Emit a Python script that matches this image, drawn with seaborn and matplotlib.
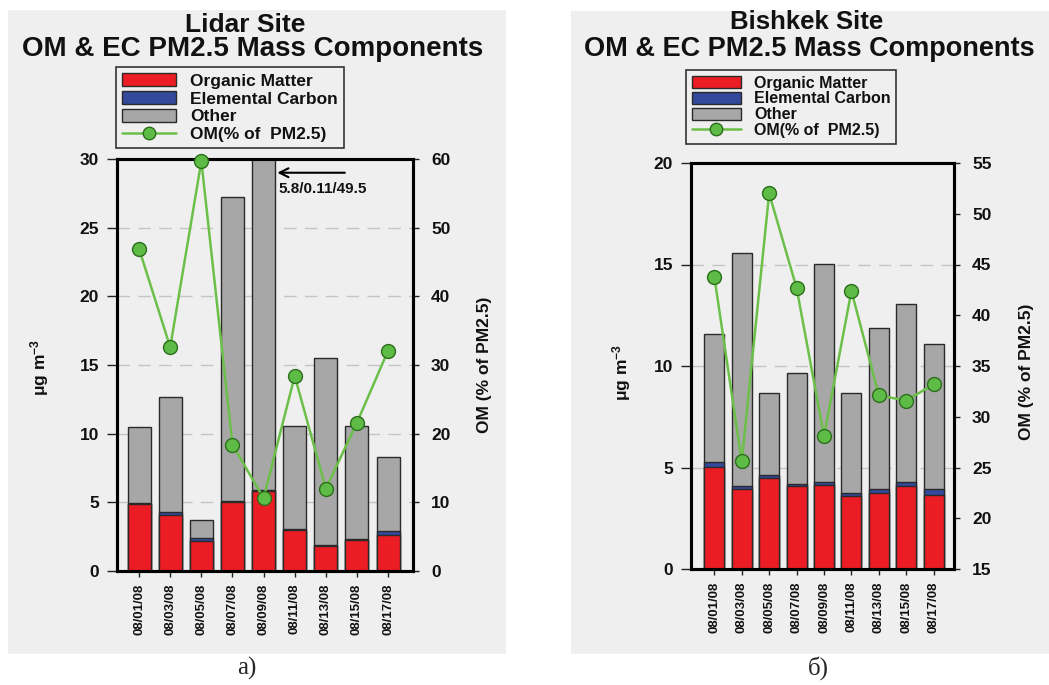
import numpy as np
import pandas as pd
import matplotlib
matplotlib.use("Agg")
import matplotlib.pyplot as plt
from matplotlib.patches import Patch, Rectangle
from matplotlib.lines import Line2D
import seaborn as sns

# Sampling dates (August 2008)
dates = ["08/01/08", "08/03/08", "08/05/08", "08/07/08", "08/09/08",
         "08/11/08", "08/13/08", "08/15/08", "08/17/08"]

# Lidar site: mass components, µg m-3, and OM share of PM2.5 (%)
lidar_om = [4.85, 4.10, 2.20, 5.00, 5.80, 2.95, 1.82, 2.28, 2.60]
lidar_ec = [0.12, 0.20, 0.20, 0.12, 0.11, 0.10, 0.08, 0.07, 0.30]
lidar_pm25 = [10.45, 12.65, 3.74, 27.2, 49.5, 10.53, 15.5, 10.53, 8.27]
lidar_om_pct = [46.9, 32.6, 59.7, 18.4, 10.6, 28.4, 12.0, 21.6, 32.1]

# Bishkek site
bishkek_om = [5.02, 3.96, 4.47, 4.07, 4.15, 3.61, 3.74, 4.07, 3.65]
bishkek_ec = [0.25, 0.14, 0.16, 0.13, 0.15, 0.15, 0.20, 0.20, 0.29]
bishkek_pm25 = [11.59, 15.57, 8.67, 9.65, 15.02, 8.67, 11.87, 13.05, 11.10]
bishkek_om_pct = [43.8, 25.6, 52.0, 42.7, 28.1, 42.4, 32.1, 31.6, 33.2]

# Note on the clipped Lidar bar (OM / EC / PM2.5)
lidar_note_idx = 4
lidar_note = "5.8/0.11/49.5"

sns.set_theme(style="white")
plt.rcParams["font.family"] = ["Liberation Sans", "DejaVu Sans"]
plt.rcParams["font.weight"] = "bold"
plt.rcParams["mathtext.fontset"] = "custom"
plt.rcParams["mathtext.rm"] = "Liberation Sans:bold"
plt.rcParams["mathtext.bf"] = "Liberation Sans:bold"
plt.rcParams["mathtext.default"] = "bf"

W, H = 1049, 685
fig = plt.figure(figsize=(W / 100, H / 100), dpi=100, facecolor="white")

BG = "#efefef"
RED = "#ec1c24"
BLUE = "#33499b"
GREY = "#a7a7a7"
EDGE = "#2a2a2a"
GREEN = "#6cc04a"
MFC = "#5dbb46"
MEC = "#2c6e1c"
INK = "#111111"


def fx(x):
    return x / W


def fy(y):
    return 1 - y / H


def px_axes(x0, y0, x1, y1):
    return [fx(x0), fy(y1), (x1 - x0) / W, (y1 - y0) / H]


# light grey panel backgrounds
for x0, y0, x1, y1 in [(8, 10, 506, 654), (571, 11, 1049, 654)]:
    fig.add_artist(Rectangle((fx(x0), fy(y1)), (x1 - x0) / W, (y1 - y0) / H,
                             transform=fig.transFigure, facecolor=BG,
                             edgecolor="none", zorder=-5))


def legend_handles():
    return [
        Patch(facecolor=RED, edgecolor=EDGE, linewidth=1),
        Patch(facecolor=BLUE, edgecolor=EDGE, linewidth=1),
        Patch(facecolor=GREY, edgecolor=EDGE, linewidth=1),
        Line2D([0], [0], color=GREEN, lw=1.8, marker="o", markersize=9,
               markerfacecolor=MFC, markeredgecolor=MEC, markeredgewidth=1),
    ]


legend_labels = ["Organic Matter", "Elemental Carbon", "Other", "OM(% of  PM2.5)"]


def draw_panel(rect, om, ec, pm, pct, ylim, yticks, y2lim, y2ticks, grid_vals,
               xlim, bar_width):
    ax = fig.add_axes(rect)
    ax.set_facecolor(BG)
    df = pd.DataFrame({"date": dates, "om": om,
                       "om_ec": np.add(om, ec), "pm": pm, "pct": pct})

    # stacked look: full PM2.5 (other on top), then OM+EC, then OM
    for col, colr in [("pm", GREY), ("om_ec", BLUE), ("om", RED)]:
        sns.barplot(data=df, x="date", y=col, color=colr, saturation=1,
                    edgecolor=EDGE, linewidth=1, width=bar_width,
                    errorbar=None, ax=ax, zorder=2)

    for g in grid_vals:
        ax.axhline(g, color="#c4c4c4", lw=1, ls=(0, (9, 6)), zorder=1)

    ax.set_ylim(*ylim)
    ax.set_yticks(yticks)
    ax.set_yticklabels([str(t) for t in yticks])
    ax.set_xlabel("")
    ax.set_ylabel("")
    ax.tick_params(axis="y", left=True, direction="out", length=7, width=1,
                   pad=6, labelsize=12.5, color="#222222", labelcolor=INK)
    ax.tick_params(axis="x", bottom=True, direction="out", length=4, width=1,
                   pad=5, labelsize=9.5, labelrotation=90, color="#222222",
                   labelcolor=INK)

    ax2 = ax.twinx()
    sns.lineplot(data=df, x="date", y="pct", ax=ax2, color=GREEN, lw=1.8,
                 marker="o", markersize=10, markerfacecolor=MFC,
                 markeredgecolor=MEC, markeredgewidth=1, clip_on=False,
                 zorder=5, sort=False)
    ax2.set_ylim(*y2lim)
    ax2.set_yticks(y2ticks)
    ax2.set_yticklabels([str(t) for t in y2ticks])
    ax2.set_ylabel("")
    ax2.set_xlabel("")
    ax2.tick_params(axis="y", right=True, direction="out", length=4, width=1,
                    pad=9, labelsize=12.5, color="#222222", labelcolor=INK)
    ax.set_xlim(*xlim)
    ax2.set_xlim(*xlim)

    for a in (ax, ax2):
        for s in a.spines.values():
            s.set_visible(True)
            s.set_color("black")
            s.set_linewidth(2.2)
    return ax, ax2


# ---- Lidar site
axL, axL2 = draw_panel(px_axes(117, 159, 413, 571), lidar_om, lidar_ec,
                       lidar_pm25, lidar_om_pct, (0, 30), [0, 5, 10, 15, 20, 25, 30],
                       (0, 60), [0, 10, 20, 30, 40, 50, 60],
                       [5, 10, 15, 20, 25], (-0.71, 8.8), 0.74)

axL.annotate("", xy=(lidar_note_idx + 0.35, 29.0),
             xytext=(lidar_note_idx + 2.7, 29.0),
             arrowprops=dict(arrowstyle="->", color="black", lw=1.5,
                             mutation_scale=16), zorder=6)
axL.text(lidar_note_idx + 0.48, 27.85, lidar_note, ha="left", va="center",
         fontsize=11, fontweight="bold", color=INK, zorder=6)

# ---- Bishkek site
axB, axB2 = draw_panel(px_axes(691, 163, 954, 569), bishkek_om, bishkek_ec,
                       bishkek_pm25, bishkek_om_pct, (0, 20), [0, 5, 10, 15, 20],
                       (15, 55), [15, 20, 25, 30, 35, 40, 45, 50, 55],
                       [5, 10, 15], (-0.85, 8.74), 0.73)

# titles
fig.text(fx(245), fy(32), "Lidar Site", ha="center", va="baseline",
         fontsize=19, fontweight="bold", color=INK)
fig.text(fx(253), fy(56), "OM & EC PM2.5 Mass Components", ha="center",
         va="baseline", fontsize=20, fontweight="bold", color=INK)
fig.text(fx(807), fy(29), "Bishkek Site", ha="center", va="baseline",
         fontsize=18.5, fontweight="bold", color=INK)
fig.text(fx(584), fy(56), "OM & EC PM2.5 Mass Components", ha="left",
         va="baseline", fontsize=19.5, fontweight="bold", color=INK)

# legends
for (x0, y0), fs, ls in [((116, 67), 12.5, 0.12), ((686, 70), 11.5, 0.05)]:
    leg = fig.legend(legend_handles(), legend_labels, loc="upper left",
                     bbox_to_anchor=(fx(x0), fy(y0)), frameon=True,
                     fancybox=False, framealpha=1, facecolor=BG,
                     edgecolor="#333333", fontsize=fs, handlelength=3.1,
                     handleheight=0.8, labelspacing=ls, borderpad=0.35,
                     handletextpad=0.8, borderaxespad=0, labelcolor=INK)
    leg.get_frame().set_linewidth(1.2)

# axis titles
for x, y in [(40, 367), (622, 372)]:
    fig.text(fx(x), fy(y), r"μg m$^{-3}$", rotation=90, ha="center",
             va="center", fontsize=12.5, fontweight="bold", color=INK)
for x, y in [(485, 365), (1027, 372)]:
    fig.text(fx(x), fy(y), "OM (% of PM2.5)", rotation=90, ha="center",
             va="center", fontsize=12.5, fontweight="bold", color=INK)

# panel letters
fig.text(fx(247), fy(668), "а)", ha="center", va="center", fontsize=18,
         family=["Liberation Serif", "DejaVu Serif"], fontweight="normal")
fig.text(fx(818), fy(668), "б)", ha="center", va="center", fontsize=18,
         family=["Liberation Serif", "DejaVu Serif"], fontweight="normal")

fig.savefig("out.png", dpi=100, facecolor="white")
